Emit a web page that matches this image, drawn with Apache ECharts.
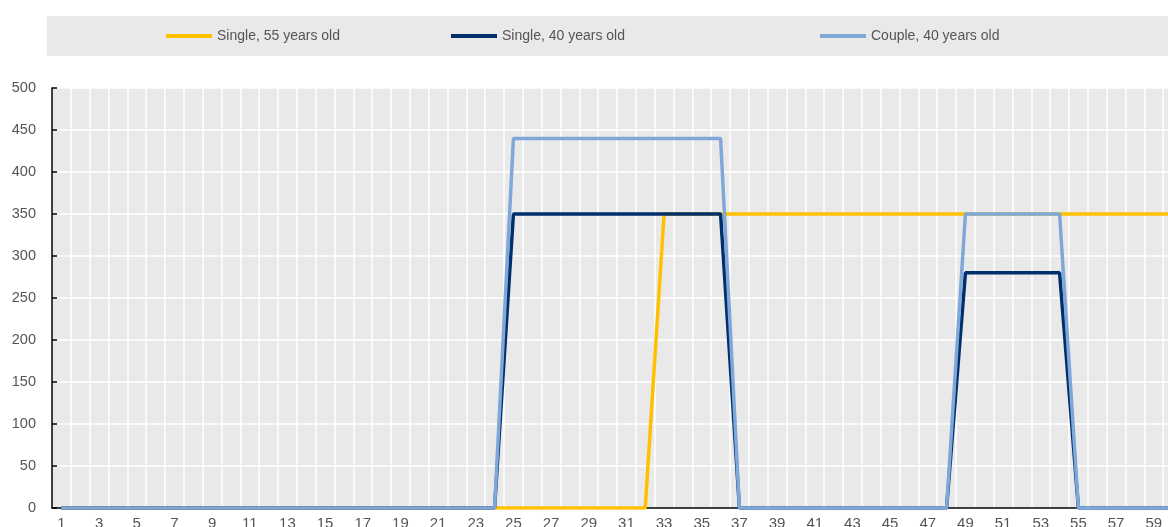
<!DOCTYPE html>
<html>
<head>
<meta charset="utf-8">
<script src="https://cdn.jsdelivr.net/npm/echarts@6/dist/echarts.min.js"></script>
<style>
  html, body { margin: 0; padding: 0; background: #fff; }
  #main { width: 1168px; height: 527px; }
</style>
</head>
<body>
<div id="main"></div>
<script>
// categories 1..60
var categories = ['1','2','3','4','5','6','7','8','9','10','11','12','13','14','15','16','17','18','19','20',
  '21','22','23','24','25','26','27','28','29','30','31','32','33','34','35','36','37','38','39','40',
  '41','42','43','44','45','46','47','48','49','50','51','52','53','54','55','56','57','58','59','60'];

// Single, 55 years old
var single55 = [0,0,0,0,0,0,0,0,0,0, 0,0,0,0,0,0,0,0,0,0, 0,0,0,0,0,0,0,0,0,0,
  0,0,350,350,350,350,350,350,350,350, 350,350,350,350,350,350,350,350,350,350,
  350,350,350,350,350,350,350,350,350,350];
// Single, 40 years old
var single40 = [0,0,0,0,0,0,0,0,0,0, 0,0,0,0,0,0,0,0,0,0, 0,0,0,0,350,350,350,350,350,350,
  350,350,350,350,350,350,0,0,0,0, 0,0,0,0,0,0,0,0,280,280,
  280,280,280,280,0,0,0,0,0,0];
// Couple, 40 years old
var couple40 = [0,0,0,0,0,0,0,0,0,0, 0,0,0,0,0,0,0,0,0,0, 0,0,0,0,440,440,440,440,440,440,
  440,440,440,440,440,440,0,0,0,0, 0,0,0,0,0,0,0,0,350,350,
  350,350,350,350,0,0,0,0,0,0];

var seriesNames = ['Single, 55 years old', 'Single, 40 years old', 'Couple, 40 years old'];
var seriesColors = ['#FFC000', '#002F6C', '#7FA8D9'];
var seriesData = [single55, single40, couple40];
var legendLeft = [166, 451, 820];

var font = 'Liberation Sans, Arial, sans-serif';
var chart = echarts.init(document.getElementById('main'));

var legends = [];
for (var i = 0; i < seriesNames.length; i++) {
    legends.push({
        data: [seriesNames[i]],
        left: legendLeft[i],
        top: 29,
        padding: 0,
        icon: 'rect',
        itemWidth: 46,
        itemHeight: 4,
        itemStyle: { borderWidth: 0 },
        textStyle: { fontFamily: font, fontSize: 14, color: '#555555', padding: [2, 0, 0, 0] }
    });
}

var series = [];
for (var j = 0; j < seriesNames.length; j++) {
    series.push({
        name: seriesNames[j],
        type: 'line',
        data: seriesData[j],
        symbol: 'none',
        lineStyle: { color: seriesColors[j], width: 3.5 },
        itemStyle: { color: seriesColors[j] },
        animation: false
    });
}

chart.setOption({
    backgroundColor: '#ffffff',
    animation: false,
    graphic: [{
        type: 'rect',
        shape: { x: 47, y: 16, width: 1121, height: 40 },
        style: { fill: '#e9e9e9' },
        z: -1
    }],
    legend: legends,
    grid: {
        left: 52,
        width: 1130,
        top: 88,
        bottom: 19,
        outerBoundsMode: 'none',
        containLabel: false,
        show: true,
        backgroundColor: '#e9e9e9',
        borderWidth: 0
    },
    xAxis: {
        type: 'category',
        data: categories,
        boundaryGap: true,
        axisLine: { lineStyle: { color: '#000', width: 1.5 } },
        axisTick: { inside: true, length: 4, interval: 0, lineStyle: { color: '#000', width: 1.5 } },
        axisLabel: { interval: 1, margin: 8, fontFamily: font, fontSize: 15, color: '#555555' },
        splitLine: { show: true, interval: 0, lineStyle: { color: '#ffffff', width: 1.5 } }
    },
    yAxis: {
        type: 'value',
        min: 0,
        max: 500,
        interval: 50,
        axisLine: { show: true, lineStyle: { color: '#000', width: 1.5 } },
        axisTick: { show: true, inside: true, length: 5, lineStyle: { color: '#000', width: 1.5 } },
        axisLabel: { margin: 16, fontFamily: font, fontSize: 14.5, color: '#555555' },
        splitLine: { show: true, lineStyle: { color: '#ffffff', width: 1.5 } }
    },
    series: series
});
</script>
</body>
</html>
